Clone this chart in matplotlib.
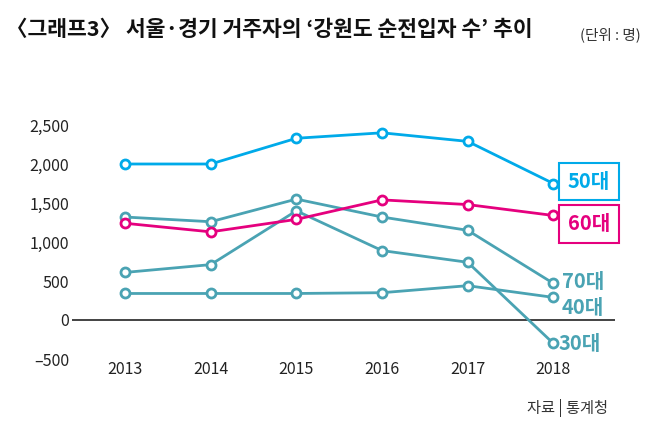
import matplotlib
matplotlib.use('Agg')
import matplotlib.pyplot as plt

plt.rcParams['font.family'] = ['Noto Sans CJK KR', 'DejaVu Sans']

years = [2013, 2014, 2015, 2016, 2017, 2018]
age_30 = [610, 710, 1400, 890, 740, -300]
age_40 = [340, 340, 340, 350, 440, 290]
age_50 = [2000, 2000, 2330, 2400, 2290, 1750]
age_60 = [1240, 1130, 1290, 1540, 1480, 1340]
age_70 = [1320, 1260, 1550, 1320, 1150, 470]

y_ticks = [-500, 0, 500, 1000, 1500, 2000, 2500]
y_tick_labels = ['–500', '0', '500', '1,000', '1,500', '2,000', '2,500']

BLUE = '#00aae9'
PINK = '#e5007e'
TEAL = '#4aa3b3'

W, H = 650, 428
fig = plt.figure(figsize=(W / 100, H / 100), dpi=100)
ax = fig.add_axes([72 / W, (H - 374.6) / H, 543 / W, (374.6 - 109.4) / H])


def draw(vals, color):
    ax.plot(years, vals, color=color, lw=2.0, marker='o', ms=6.5,
            mfc='white', mec=color, mew=2.0, zorder=3)


draw(age_40, TEAL)
draw(age_30, TEAL)
draw(age_70, TEAL)
draw(age_60, PINK)
draw(age_50, BLUE)

ax.axhline(0, color='#222222', lw=1.2, zorder=2)
ax.set_xlim(2012.38, 2018.72)
ax.set_ylim(-700, 2700)
for s in ax.spines.values():
    s.set_visible(False)
ax.set_xticks(years)
ax.set_xticklabels([str(y) for y in years], fontsize=11.5, color='#222222')
ax.set_yticks(y_ticks)
ax.set_yticklabels(y_tick_labels, fontsize=11.5, color='#222222')
ax.tick_params(axis='x', length=0, pad=-10)
ax.tick_params(axis='y', length=0, pad=2)

# series labels at the right
fig.text(589 / W, 1 - 181.5 / H, '50대', color=BLUE, fontsize=14.5, fontweight='bold',
         ha='center', va='center',
         bbox=dict(boxstyle='square,pad=0.42', fc='white', ec=BLUE, lw=1.5))
fig.text(589 / W, 1 - 224 / H, '60대', color=PINK, fontsize=14.5, fontweight='bold',
         ha='center', va='center',
         bbox=dict(boxstyle='square,pad=0.42', fc='white', ec=PINK, lw=1.5))
fig.text(562 / W, 1 - 282 / H, '70대', color=TEAL, fontsize=14.5, fontweight='bold',
         ha='left', va='center')
fig.text(562 / W, 1 - 307 / H, '40대', color=TEAL, fontsize=14.5, fontweight='bold',
         ha='left', va='center')
fig.text(559 / W, 1 - 343 / H, '30대', color=TEAL, fontsize=14.5, fontweight='bold',
         ha='left', va='center')

fig.text(6 / W, 1 - 30 / H, '〈그래프3〉 서울·경기 거주자의 ‘강원도 순전입자 수’ 추이',
         fontsize=15.5, fontweight='bold', color='#111111', ha='left', va='center')
fig.text(641 / W, 1 - 35 / H, '(단위 : 명)', fontsize=10.5, color='#333333',
         ha='right', va='center')
fig.text(608 / W, 1 - 408 / H, '자료 | 통계청', fontsize=11, color='#333333',
         ha='right', va='center')

fig.savefig('out.png', dpi=100, facecolor='white')
